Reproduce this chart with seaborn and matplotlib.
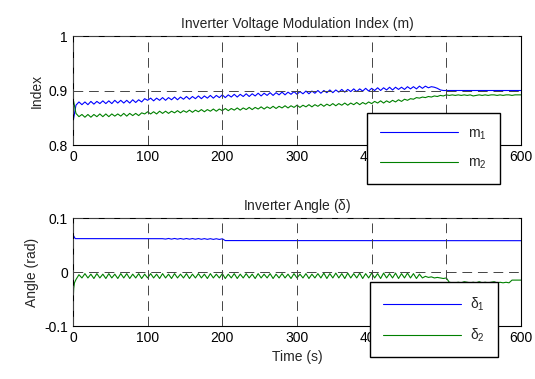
import numpy as np
import pandas as pd
import matplotlib
matplotlib.use("Agg")
import matplotlib.pyplot as plt
import seaborn as sns

# time axis of the sampled traces (s)
t_top = np.arange(0, 601, 4)

# modulation index, in thousandths
m1_milli = [
    842, 873, 879, 874, 879, 874, 880, 875, 880, 876,
    881, 876, 881, 876, 882, 877, 882, 877, 882, 877,
    883, 878, 883, 879, 885, 882, 886, 881, 886, 882,
    887, 882, 887, 883, 888, 883, 888, 884, 889, 884,
    889, 885, 890, 885, 890, 886, 891, 886, 891, 887,
    892, 887, 892, 888, 893, 888, 893, 889, 894, 889,
    894, 890, 895, 890, 895, 891, 896, 891, 896, 892,
    897, 892, 897, 893, 898, 893, 898, 894, 899, 894,
    899, 895, 900, 895, 900, 896, 901, 896, 901, 897,
    902, 897, 902, 898, 903, 898, 903, 899, 904, 899,
    904, 900, 905, 900, 905, 901, 906, 901, 906, 902,
    906, 902, 907, 903, 907, 903, 908, 904, 908, 905,
    907, 906, 904, 901, 900, 900, 900, 900, 900, 900,
    900, 900, 900, 900, 900, 900, 900, 900, 900, 900,
    900, 900, 900, 900, 900, 900, 900, 900, 900, 900,
    900,
]
m2_milli = [
    886, 858, 852, 856, 851, 856, 851, 856, 852, 857,
    852, 857, 852, 857, 853, 857, 853, 858, 853, 858,
    854, 858, 854, 859, 857, 861, 857, 861, 857, 862,
    858, 862, 858, 862, 859, 863, 859, 863, 860, 864,
    860, 864, 861, 865, 861, 865, 862, 866, 862, 866,
    863, 867, 863, 867, 864, 868, 864, 868, 865, 869,
    865, 869, 866, 870, 866, 870, 867, 871, 867, 871,
    868, 872, 868, 872, 869, 873, 869, 873, 870, 874,
    870, 874, 871, 875, 871, 875, 872, 876, 872, 876,
    873, 877, 873, 877, 874, 878, 874, 878, 875, 879,
    876, 880, 877, 881, 877, 881, 878, 882, 879, 883,
    880, 884, 882, 885, 884, 887, 886, 888, 887, 889,
    888, 890, 889, 891, 890, 892, 891, 892, 891, 892,
    891, 892, 891, 892, 890, 891, 892, 891, 892, 891,
    892, 892, 891, 892, 891, 892, 892, 891, 892, 892,
    892,
]

# inverter angles, in milliradians
t_d1 = [0, 3] + list(range(120, 201, 4)) + [204, 600]
d1_milli = [69, 61.8,
            61.7, 61.0, 62.1, 60.9, 62.1, 60.9, 62.0, 60.8, 62.0, 60.8,
            61.9, 60.7, 61.9, 60.6, 61.8, 60.5, 61.7, 60.4, 61.6, 60.3, 61.5,
            58.2, 58.0]

t_d2 = [0, 1, 2] + list(range(4, 601, 4))
d2_milli = [
    -60, -30, -20, -14,
    -5, -11, -3, -11, -4, -12, -3, -11, -4, -12,
    -3, -11, -4, -12, -3, -11, -3, -12, -4, -11,
    -3, -12, -4, -11, -3, -11, -4, -12, -3, -11,
    -4, -12, -3, -11, -4, -11, -3, -12, -4, -11,
    -3, -11, -4, -12, -3, -11, -4, -11, -3, -12,
    -4, -11, -3, -12, -4, -11, -3, -11, -4, -12,
    -3, -11, -4, -11, -3, -12, -4, -11, -3, -11,
    -4, -12, -3, -11, -4, -11, -3, -12, -4, -11,
    -3, -11, -2, -12, -3, -11, -2, -11, -3, -12,
    -2, -11, -3, -11, -2, -12, -3, -11, -2, -11,
    -3, -12, -2, -11, -3, -11, -2, -12, -3, -11,
    -2, -11, -3, -12, -4, -11,
    -8, -10, -9, -11, -10, -11, -12, -11, -19, -20,
    -20, -19, -20, -18, -19, -20, -19, -20, -18, -20,
    -19, -20, -19, -18, -20, -19, -20, -19, -20, -15,
    -15, -15, -15,
]

top = pd.DataFrame({"t": t_top, "m1": np.array(m1_milli) / 1000,
                    "m2": np.array(m2_milli) / 1000})
d1 = pd.DataFrame({"t": t_d1, "v": np.array(d1_milli) / 1000})
d2 = pd.DataFrame({"t": t_d2, "v": np.array(d2_milli) / 1000})

sns.set_style("white")
plt.rcParams["font.family"] = ["Liberation Sans", "DejaVu Sans"]
plt.rcParams["mathtext.default"] = "regular"
plt.rcParams["font.size"] = 10

blue = "#0000ff"
green = "#008000"

fig = plt.figure(figsize=(5.35, 3.79), dpi=100)
ax1 = fig.add_axes([0.1364, 0.6174, 0.8374, 0.2876])
ax2 = fig.add_axes([0.1364, 0.1398, 0.8374, 0.2850])

sns.lineplot(data=top, x="t", y="m1", ax=ax1, color=blue, lw=0.8,
             estimator=None, sort=False, label="m$_1$")
sns.lineplot(data=top, x="t", y="m2", ax=ax1, color=green, lw=0.8,
             estimator=None, sort=False, label="m$_2$")
sns.lineplot(data=d1, x="t", y="v", ax=ax2, color=blue, lw=0.8,
             estimator=None, sort=False, label=r"$\delta_1$")
sns.lineplot(data=d2, x="t", y="v", ax=ax2, color=green, lw=0.8,
             estimator=None, sort=False, label=r"$\delta_2$")

ax1.set_xlim(0, 600)
ax1.set_ylim(0.8, 1.0)
ax1.set_yticks([0.8, 0.9, 1.0])
ax1.set_yticklabels(["0.8", "0.9", "1"])
ax1.set_title("Inverter Voltage Modulation Index (m)", fontsize=10, pad=6)
ax1.set_ylabel("Index")
ax1.set_xlabel("")

ax2.set_xlim(0, 600)
ax2.set_ylim(-0.1, 0.1)
ax2.set_yticks([-0.1, 0, 0.1])
ax2.set_yticklabels(["-0.1", "0", "0.1"])
ax2.set_title(r"Inverter Angle ($\delta$)", fontsize=10, pad=6)
ax2.set_ylabel("Angle (rad)")
ax2.set_xlabel("Time (s)")

for ax in (ax1, ax2):
    ax.set_xticks([0, 100, 200, 300, 400, 500, 600])
    ax.grid(True, color="#444444", ls=(0, (10, 6)), lw=0.7)
    ax.tick_params(direction="in", length=3, colors="black", labelsize=10)
    for s in ax.spines.values():
        s.set_color("black")
        s.set_linewidth(0.8)
    ax.set_axisbelow(False)

leg_kw = dict(loc="center", bbox_transform=fig.transFigure, frameon=True,
              fancybox=False, framealpha=1, edgecolor="black",
              handlelength=5.6, handletextpad=0.7, labelspacing=1.0,
              borderpad=0.95, fontsize=10)
leg1 = ax1.legend(bbox_to_anchor=(0.810, 0.608), **leg_kw)
leg1.get_frame().set_linewidth(1.0)
leg2 = ax2.legend(bbox_to_anchor=(0.811, 0.156), **leg_kw)
leg2.get_frame().set_linewidth(1.0)

fig.savefig("out.png", dpi=100)
